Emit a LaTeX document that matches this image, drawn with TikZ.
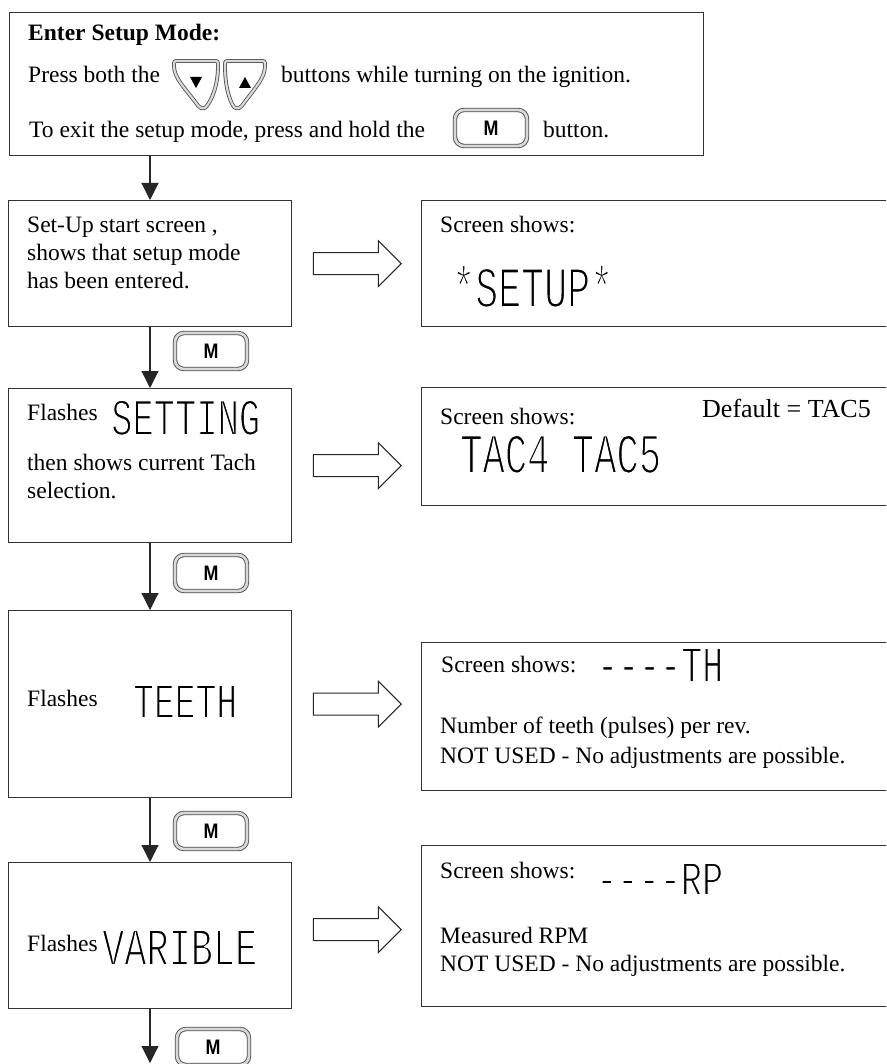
\documentclass[tikz,border=0pt]{standalone}
\usepackage{fontspec}
\usepackage{graphicx}
\setmainfont{Liberation Serif}
\newfontfamily\lcdfont{Liberation Mono}
\newfontfamily\btnfont{Liberation Sans}[FakeStretch=0.85]
\usetikzlibrary{arrows.meta,calc}
% thin segment-like glyphs: stroke the glyph outline in white
\newcommand\thinlcd[1]{\special{pdf:literal direct 2 Tr 1 1 1 RG 2 w}#1\special{pdf:literal direct 0 Tr 0 0 0 RG 1 w}}
\newcommand\lcdtext[3]{\resizebox{#1}{#2}{\fontsize{64}{64}\selectfont\thinlcd{#3}}}
\tikzset{
  box/.style={draw=black!80, line width=1.3pt, rectangle, inner sep=0pt, anchor=north west},
  txt/.style={anchor=base west, inner sep=0pt, font=\fontsize{23.5}{28}\selectfont},
  bigtxt/.style={anchor=base west, inner sep=0pt, font=\fontsize{26}{30}\selectfont},
  lcd/.style={anchor=base west, inner sep=0pt, font=\lcdfont},
  flow/.style={draw=black!85, line width=1.1pt, -{Triangle[length=17pt,width=17pt]}},
  hollow/.style={draw=black!85, line width=1.1pt, fill=white, line join=miter},
  mbtn/.style={draw=black!70, double=gray!30, double distance=2.6pt, line width=0.9pt,
    fill=white, rounded corners=9pt, minimum width=72pt, minimum height=36pt, inner sep=0pt,
    font=\btnfont\bfseries\fontsize{21}{21}\selectfont},
  abtn/.style={draw=black!70, double=gray!30, double distance=2.2pt, line width=0.8pt, fill=white},
  tri/.style={fill=black, draw=none},
}
\begin{document}
\begin{tikzpicture}[x=1pt,y=-1pt]
\useasboundingbox (0,0) rectangle (886,1064);
\clip (0,0) rectangle (886,1064);
\fill[white] (0,0) rectangle (886,1064);

% column for the vertical flow
\coordinate (col) at (150,0);

% ---------- top box ----------
\node[box, minimum width=694pt, minimum height=143pt] (top) at (9,12) {};
\node[txt, font=\fontsize{23.5}{28}\selectfont\bfseries] (t1) at (28,41) {Enter Setup Mode:};
\node[txt] (t2) at (28,83) {Press both the};
\node[txt] (t3) at (281,83) {buttons while turning on the ignition.};
\node[txt] (t4) at (29,138) {To exit the setup mode, press and hold the};
\node[txt] (t5) at (543,138) {button.};

% down / up buttons
\path[abtn] (174,66) .. controls (174,61) .. (179,61) -- (213,61) .. controls (218,61) .. (218,66)
  .. controls (218,85) and (212,100) .. (206,107) .. controls (203,110) and (199,108) .. (196,103)
  .. controls (185,88) and (174,78) .. cycle;
\fill[tri] (190,77) -- (202,77) -- (196,88) -- cycle;
\path[abtn] (265,66) .. controls (265,61) .. (260,61) -- (230,61) .. controls (225,61) .. (225,66)
  .. controls (225,85) and (229,100) .. (234,107) .. controls (237,110) and (241,108) .. (244,103)
  .. controls (255,88) and (265,78) .. cycle;
\fill[tri] (239,88) -- (251,88) -- (245,77) -- cycle;

\node[mbtn] (m0) at (491,128) {M};

% ---------- left column ----------
\node[box, minimum width=283pt, minimum height=126pt] (b1) at (8,200) {};
\node[box, minimum width=283pt, minimum height=154pt] (b2) at (8,388) {};
\node[box, minimum width=283pt, minimum height=187pt] (b3) at (8,610) {};
\node[box, minimum width=283pt, minimum height=146pt] (b4) at (8,862) {};

\node[txt] (b1a) at (27,233) {Set-Up start screen ,};
\node[txt] (b1b) at (27,261) {shows that setup mode};
\node[txt] (b1c) at (27,288) {has been entered.};

\node[txt] (b2a) at (27,420) {Flashes};
\node[lcd] (b2l) at (111,435) {\lcdtext{149pt}{35pt}{SETTING}};
\node[txt] (b2b) at (27,470) {then shows current Tach};
\node[txt] (b2c) at (27,498) {selection.};

\node[txt] (b3a) at (27,706) {Flashes};
\node[lcd] (b3l) at (133,718) {\lcdtext{104pt}{33pt}{TEETH}};

\node[txt] (b4a) at (27,951) {Flashes};
\node[lcd] (b4l) at (102,965) {\lcdtext{155pt}{35pt}{VARIBLE}};

% ---------- right column ----------
\node[box, minimum width=480pt, minimum height=126pt] (r1) at (421,200) {};
\node[box, minimum width=480pt, minimum height=118pt] (r2) at (421,387) {};
\node[box, minimum width=480pt, minimum height=148pt] (r3) at (421,642) {};
\node[box, minimum width=480pt, minimum height=161pt] (r4) at (421,845) {};

\node[txt] (r1a) at (440,233) {Screen shows:};
\node[lcd] (r1l) at (452,307) {\lcdtext{161pt}{42pt}{*SETUP*}};

\node[txt] (r2a) at (440,424) {Screen shows:};
\node[bigtxt] (r2d) at (702,417) {Default = TAC5};
\node[lcd] (r2l) at (460,473) {\lcdtext{201pt}{38pt}{TAC4 TAC5}};

\node[txt] (r3a) at (441,672) {Screen shows:};
\node[lcd] (r3l) at (597,682) {\lcdtext{126pt}{34pt}{----TH}};
\node[txt] (r3b) at (440,733) {Number of teeth (pulses) per rev.};
\node[txt] (r3c) at (440,763) {NOT USED - No adjustments are possible.};

\node[txt] (r4a) at (440,878) {Screen shows:};
\node[lcd] (r4l) at (596,895) {\lcdtext{127pt}{32pt}{----RP}};
\node[txt] (r4b) at (440,943) {Measured RPM};
\node[txt] (r4c) at (440,971) {NOT USED - No adjustments are possible.};

% ---------- M buttons ----------
\node[mbtn] (m1) at (211,351) {M};
\node[mbtn] (m2) at (211,573) {M};
\node[mbtn] (m3) at (211,831) {M};
\node[mbtn] (m4) at (213,1047) {M};

% ---------- flow arrows ----------
\coordinate (endpt) at (150,1063);
\draw[flow] (top.south -| col) -- (b1.north -| col);
\draw[flow] (b1.south -| col) -- (b2.north -| col);
\draw[flow] (b2.south -| col) -- (b3.north -| col);
\draw[flow] (b3.south -| col) -- (b4.north -| col);
\draw[flow] (b4.south -| col) -- (endpt);

% ---------- hollow arrows ----------
\draw[hollow] ($(b1.east)+(21,-11)$) -- ++(65,0) -- ++(0,-12) -- ++(23,23) -- ++(-23,23) -- ++(0,-12) -- ++(-65,0) -- cycle;
\draw[hollow] ($(b2.east)+(21,-11)$) -- ++(65,0) -- ++(0,-12) -- ++(23,23) -- ++(-23,23) -- ++(0,-12) -- ++(-65,0) -- cycle;
\draw[hollow] ($(b3.east)+(21,-11)$) -- ++(65,0) -- ++(0,-12) -- ++(23,23) -- ++(-23,23) -- ++(0,-12) -- ++(-65,0) -- cycle;
\draw[hollow] ($(b4.east)+(21,-17)$) -- ++(65,0) -- ++(0,-12) -- ++(23,23) -- ++(-23,23) -- ++(0,-12) -- ++(-65,0) -- cycle;
\end{tikzpicture}
\end{document}
